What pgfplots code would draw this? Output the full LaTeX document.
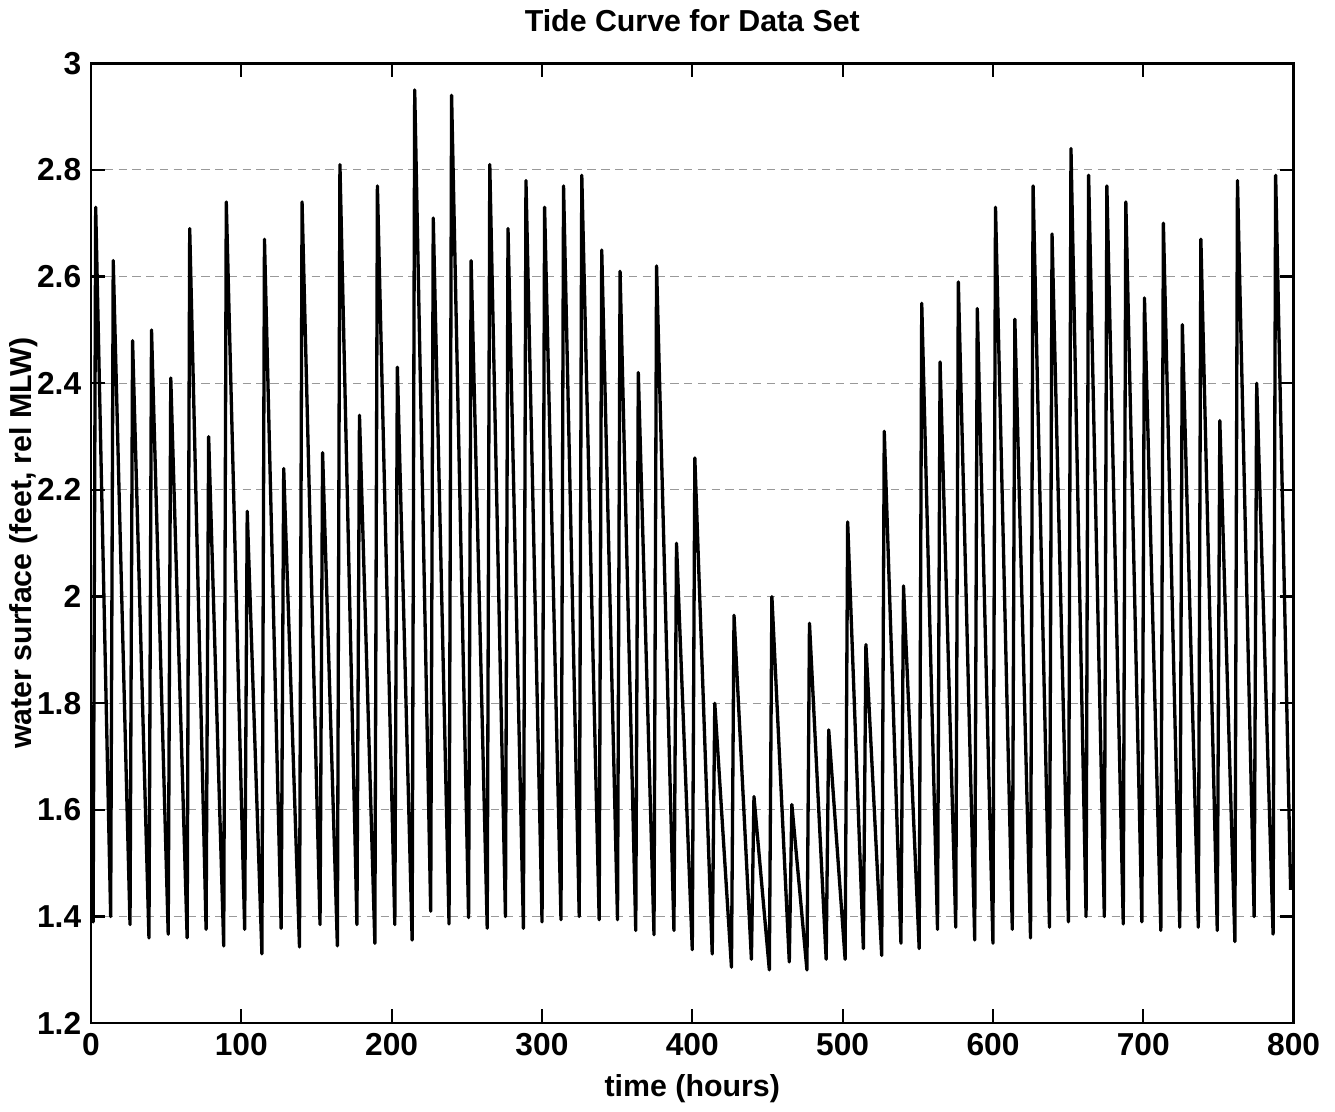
\documentclass[border=0pt]{standalone}
\usepackage{fontspec}
\setmainfont{Liberation Sans}
\usepackage{pgfplots}
\pgfplotsset{compat=1.18}
\begin{document}
\begin{tikzpicture}
\begin{axis}[
  name=ax,
  width=436pt, height=348pt, scale only axis,
  xmin=0, xmax=800, ymin=1.2, ymax=3,
  xtick={0,100,...,800},
  ytick={1.2,1.4,1.6,1.8,2,2.2,2.4,2.6,2.8,3},
  /pgf/number format/assume math mode=true,
  tick label style={font=\fontsize{11.5}{13}\selectfont\bfseries},
  label style={font=\fontsize{11}{13}\selectfont\bfseries},
  title style={font=\fontsize{11}{13}\selectfont\bfseries, yshift=2pt},
  title={Tide Curve for Data Set},
  xlabel={time (hours)},
  ylabel={water surface (feet, rel MLW)},
  ylabel style={yshift=-7pt},
  axis line style={line width=0.9pt},
  major tick length=5pt,
  tick style={line width=0.8pt, black},
  tick align=inside,
  ymajorgrids,
  major grid style={densely dashed, line width=0.4pt, gray!80},
  clip=true,
]
\addplot[black, line width=1.2pt, line join=round] coordinates {
(0.5,1.40) (1.45,1.39) (3.15,2.73)
(13.12,1.40) (14.82,2.63)
(25.99,1.385) (27.69,2.48)
(38.59,1.36) (40.29,2.50)
(51.39,1.367) (53.09,2.41)
(63.99,1.36) (65.69,2.69)
(76.59,1.376) (78.29,2.30)
(88.32,1.345) (90.02,2.74)
(102.25,1.376) (103.95,2.16)
(113.72,1.33) (115.42,2.67)
(126.52,1.378) (128.22,2.24)
(138.72,1.343) (140.42,2.74)
(152.38,1.385) (154.08,2.27)
(163.92,1.345) (165.62,2.81)
(176.92,1.385) (178.62,2.34)
(188.85,1.35) (190.55,2.77)
(202.12,1.385) (203.82,2.43)
(213.65,1.356) (215.35,2.95)
(225.99,1.41) (227.69,2.71)
(238.19,1.386) (239.89,2.94)
(251.19,1.398) (252.89,2.63)
(263.59,1.378) (265.29,2.81)
(275.72,1.40) (277.42,2.69)
(287.66,1.378) (289.36,2.78)
(300.06,1.39) (301.76,2.73)
(312.66,1.394) (314.36,2.77)
(324.79,1.40) (326.49,2.79)
(338.06,1.394) (339.76,2.65)
(350.26,1.394) (351.96,2.61)
(362.39,1.374) (364.09,2.42)
(374.53,1.366) (376.23,2.62)
(387.79,1.374) (389.49,2.10)
(399.99,1.338) (401.69,2.26)
(413.26,1.33) (414.96,1.80)
(426.05,1.305) (427.75,1.965)
(439.32,1.32) (441.02,1.625)
(451.25,1.30) (452.95,2.00)
(464.52,1.315) (466.22,1.61)
(476.25,1.30) (477.95,1.95)
(489.05,1.32) (490.75,1.75)
(501.65,1.32) (503.35,2.14)
(513.79,1.34) (515.49,1.91)
(525.99,1.327) (527.69,2.31)
(538.79,1.35) (540.49,2.02)
(550.92,1.34) (552.62,2.55)
(563.12,1.376) (564.82,2.44)
(575.26,1.38) (576.96,2.59)
(587.86,1.356) (589.56,2.54)
(599.99,1.35) (601.69,2.73)
(612.86,1.376) (614.56,2.52)
(624.99,1.36) (626.69,2.77)
(637.59,1.38) (639.29,2.68)
(650.19,1.39) (651.89,2.84)
(661.93,1.40) (663.63,2.79)
(674.07,1.40) (675.77,2.77)
(686.67,1.386) (688.37,2.74)
(699.07,1.39) (700.77,2.56)
(711.66,1.374) (713.36,2.70)
(724.26,1.38) (725.96,2.51)
(736.6,1.38) (738.3,2.67)
(749.2,1.374) (750.9,2.33)
(760.93,1.353) (762.63,2.78)
(773.73,1.40) (775.43,2.40)
(786.33,1.367) (788.03,2.79)
(798.0,1.45)
};
\end{axis}
\path ([xshift=15pt]ax.east);
\end{tikzpicture}
\end{document}
